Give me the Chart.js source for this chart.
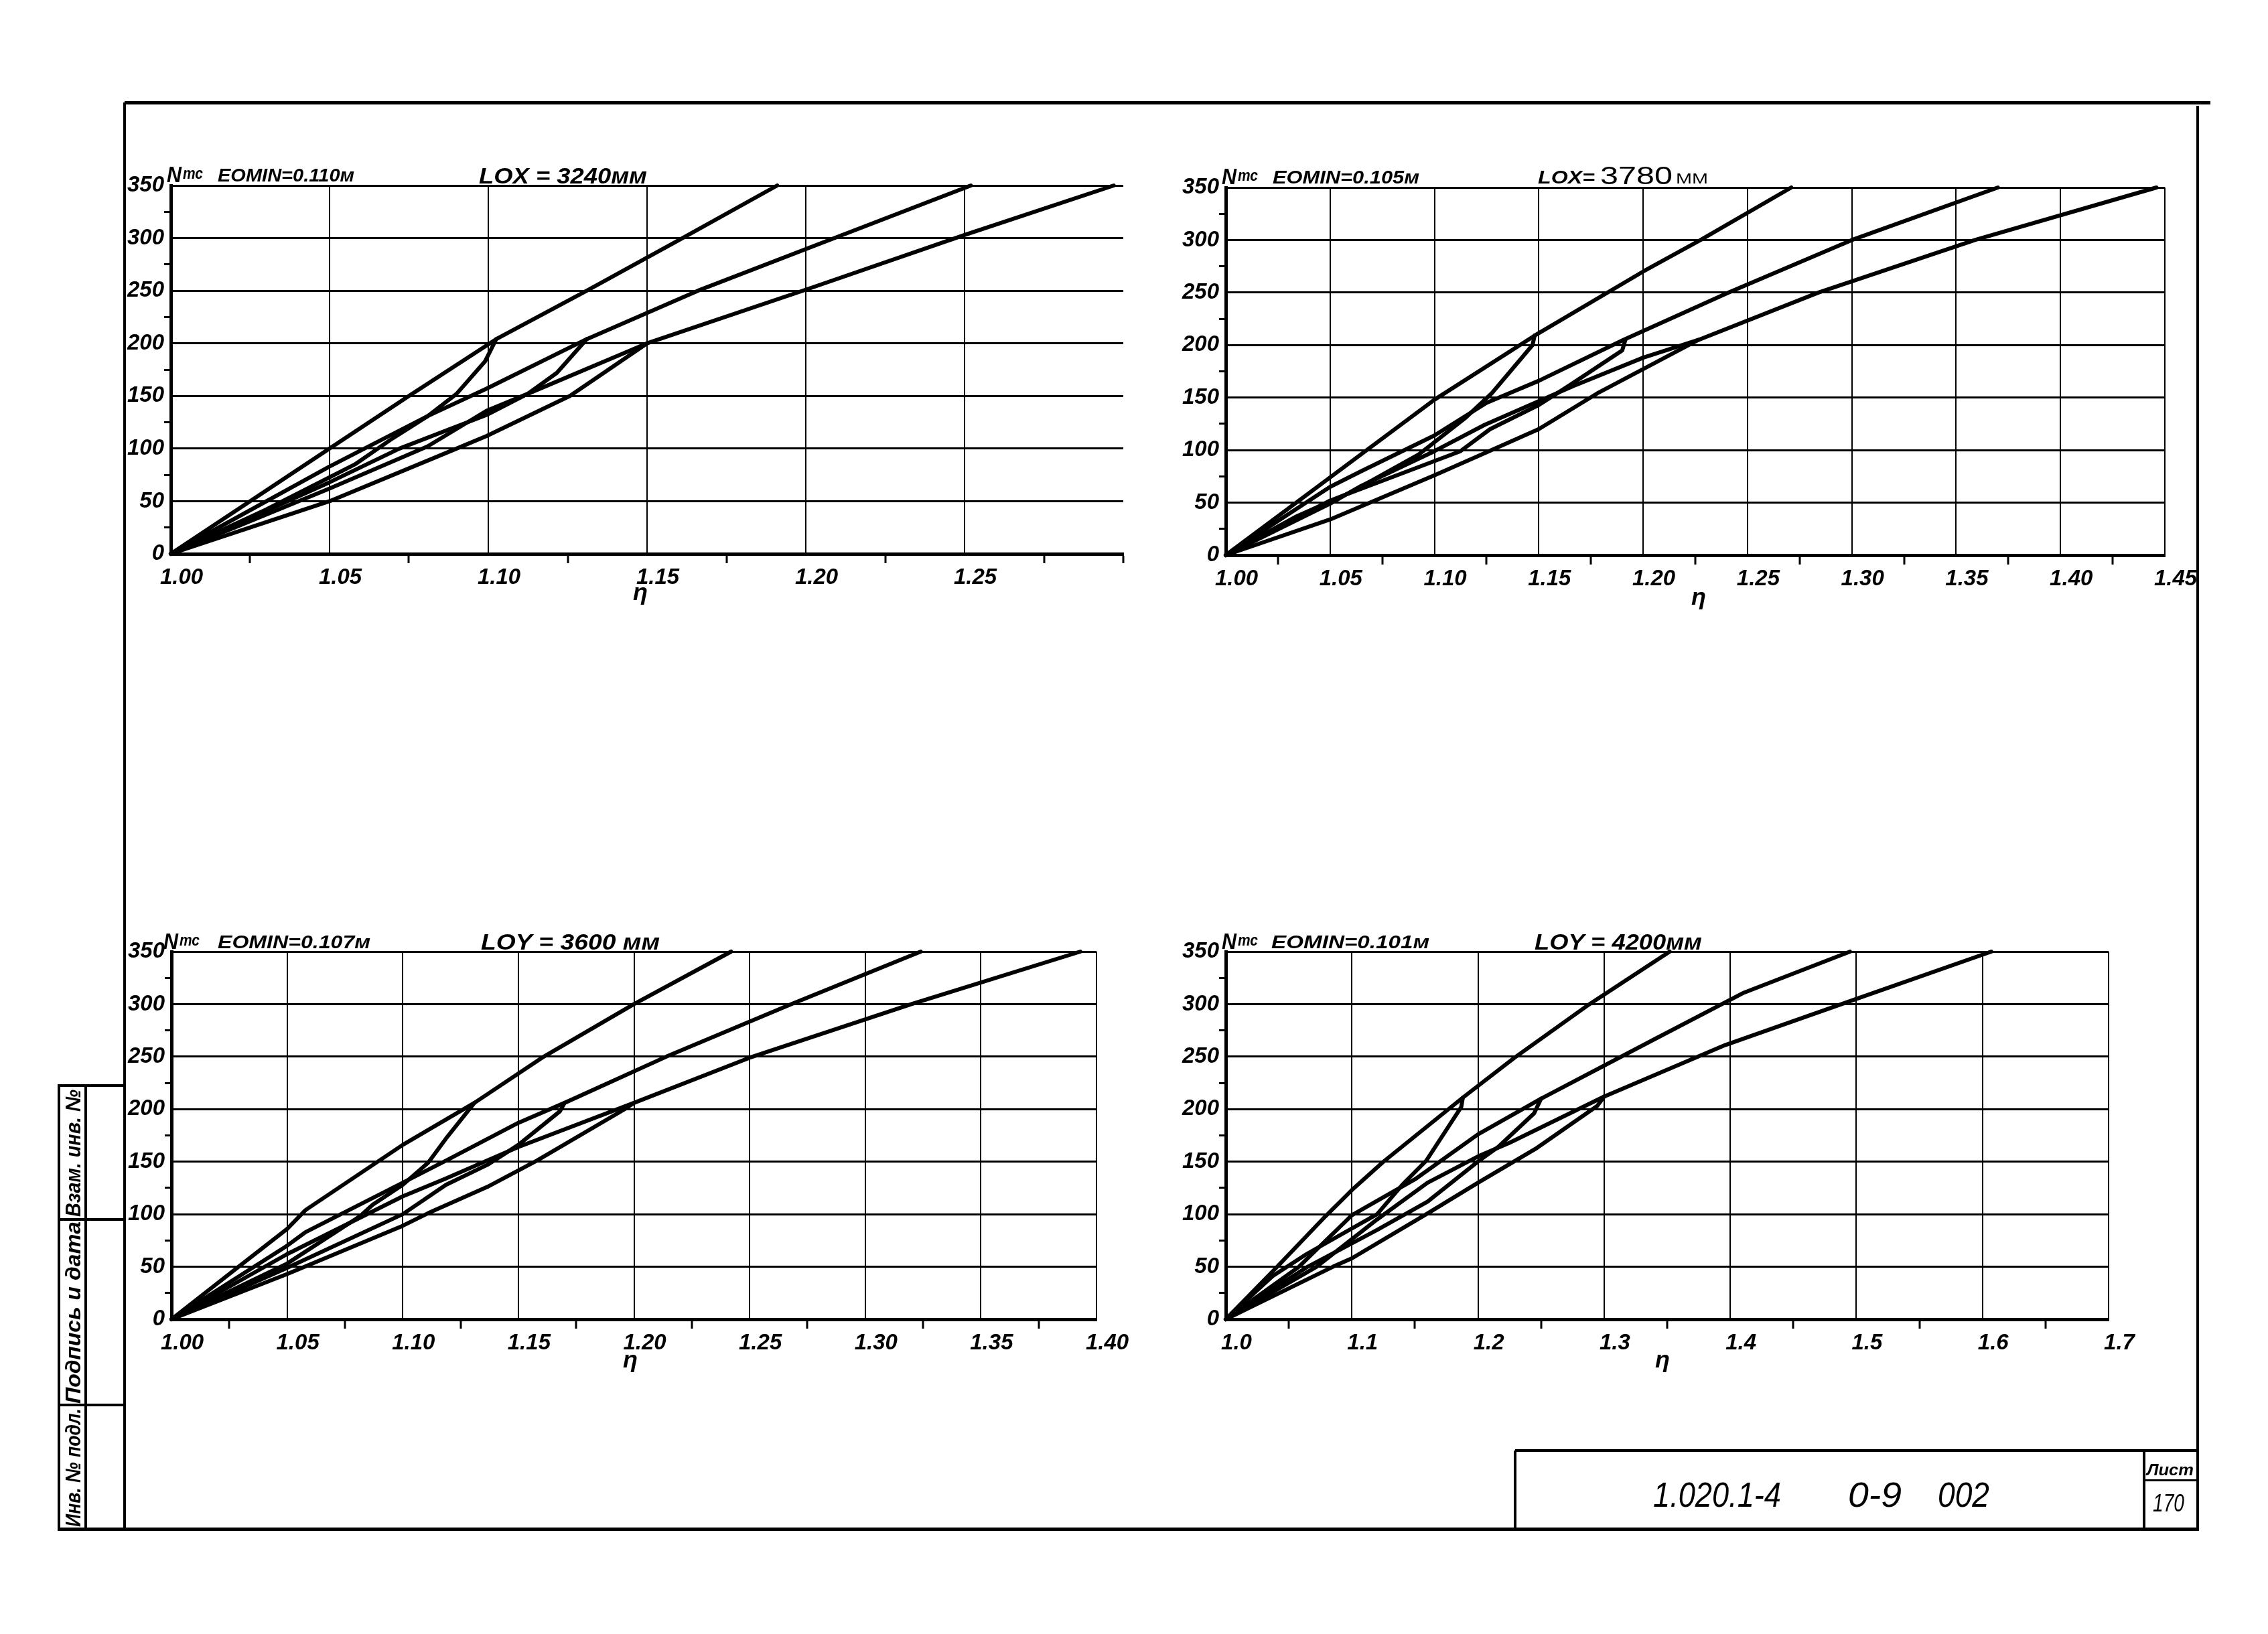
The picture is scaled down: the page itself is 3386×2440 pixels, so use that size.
<!DOCTYPE html>
<html>
<head>
<meta charset="utf-8">
<script src="https://cdn.jsdelivr.net/npm/chart.js@4.4.1/dist/chart.umd.min.js"></script>
<style>
  body { margin: 0; background: #fff; }
  #page { position: relative; width: 3386px; height: 2440px; background: #fff; overflow: hidden; }
  .ln { position: absolute; background: #000; }
  .tx { position: absolute; white-space: nowrap; line-height: 1; color: #000; transform-origin: 0 0;
        font-family: 'Liberation Sans', 'DejaVu Sans', sans-serif; font-style: italic; font-weight: bold; }
  canvas { position: absolute; }
</style>
</head>
<body>
<div id="page"></div>
<script>
// values: [eta, N (tc)]
var yLabels = ['0', '50', '100', '150', '200', '250', '300', '350'];

var c1Labels = ['1.00', '1.05', '1.10', '1.15', '1.20', '1.25'];
var c1Upper1 = [[1.00, 0], [1.05, 100], [1.075, 150], [1.1025, 204], [1.131, 250], [1.16, 298], [1.191, 350]];
var c1Inner1 = [[1.00, 0], [1.03, 42], [1.058, 85], [1.07, 110], [1.081, 131], [1.09, 152], [1.099, 183], [1.1025, 204]];
var c1Upper2 = [[1.00, 0], [1.05, 83], [1.081, 131], [1.0995, 157], [1.131, 204], [1.166, 250], [1.209, 300], [1.252, 350]];
var c1Inner2 = [[1.00, 0], [1.05, 68], [1.072, 100], [1.0995, 132], [1.1124, 152], [1.1216, 172], [1.131, 204]];
var c1Upper3 = [[1.00, 0], [1.05, 62], [1.0808, 102], [1.0995, 136], [1.1124, 152], [1.15, 200], [1.201, 252], [1.25, 303], [1.297, 350]];
var c1Inner3 = [[1.00, 0], [1.025, 25], [1.05, 50], [1.09, 100], [1.0995, 112], [1.1257, 150], [1.15, 200]];

var c2Labels = ['1.00', '1.05', '1.10', '1.15', '1.20', '1.25', '1.30', '1.35', '1.40', '1.45'];
var c2Upper1 = [[1.00, 0], [1.05, 74], [1.10, 148], [1.148, 209], [1.20, 270], [1.2275, 300], [1.271, 350]];
var c2Inner1 = [[1.00, 0], [1.034, 37], [1.06, 60], [1.0926, 96], [1.115, 131], [1.1274, 154], [1.147, 200], [1.148, 209]];
var c2Upper2 = [[1.00, 0], [1.05, 65], [1.065, 80], [1.10, 114], [1.125, 145], [1.15, 166], [1.1906, 205], [1.241, 250], [1.30, 300], [1.37, 350]];
var c2Inner2 = [[1.00, 0], [1.05, 52], [1.1125, 99], [1.1267, 120], [1.15, 143], [1.165, 162], [1.19, 195], [1.1915, 205]];
var c2Upper3 = [[1.00, 0], [1.05, 49], [1.065, 66], [1.10, 99], [1.124, 124], [1.1665, 161], [1.20, 188], [1.2266, 205], [1.284, 250], [1.359, 300], [1.446, 350]];
var c2Inner3 = [[1.00, 0], [1.05, 34], [1.10, 76], [1.124, 97], [1.15, 120], [1.178, 154], [1.2266, 205]];

var c3Labels = ['1.00', '1.05', '1.10', '1.15', '1.20', '1.25', '1.30', '1.35', '1.40'];
var c3Upper1 = [[1.00, 0], [1.029, 50], [1.05, 86], [1.058, 104], [1.10, 166], [1.131, 206], [1.161, 250], [1.20, 300], [1.242, 350]];
var c3Inner1 = [[1.00, 0], [1.05, 53], [1.0815, 98], [1.087, 109], [1.10, 128], [1.111, 149], [1.1187, 172], [1.131, 206]];
var c3Upper2 = [[1.00, 0], [1.05, 70], [1.058, 83], [1.10, 130], [1.1187, 151], [1.15, 187], [1.17, 206], [1.214, 250], [1.268, 300], [1.324, 350]];
var c3Inner2 = [[1.00, 0], [1.05, 49], [1.10, 100], [1.1187, 128], [1.1366, 147], [1.15, 166], [1.168, 198], [1.17, 206]];
var c3Upper3 = [[1.00, 0], [1.05, 62], [1.10, 117], [1.1187, 134], [1.15, 164], [1.20, 206], [1.25, 249], [1.32, 300], [1.393, 350]];
var c3Inner3 = [[1.00, 0], [1.05, 43], [1.10, 89], [1.111, 101], [1.1366, 126], [1.158, 151], [1.196, 200], [1.20, 206]];

var c4Labels = ['1.0', '1.1', '1.2', '1.3', '1.4', '1.5', '1.6', '1.7'];
var c4Upper1 = [[1.0, 0], [1.04, 49], [1.079, 98], [1.10, 123], [1.125, 150], [1.188, 211], [1.229, 249], [1.286, 298], [1.352, 350]];
var c4Inner1 = [[1.0, 0], [1.037, 41], [1.064, 62], [1.12, 100], [1.14, 128], [1.159, 151], [1.1867, 202], [1.188, 211]];
var c4Upper2 = [[1.0, 0], [1.058, 50], [1.10, 99], [1.151, 134], [1.20, 176], [1.25, 210], [1.339, 266], [1.411, 311], [1.495, 350]];
var c4Inner2 = [[1.0, 0], [1.065, 50], [1.12, 85], [1.16, 112], [1.2009, 151], [1.216, 164], [1.2445, 196], [1.25, 210]];
var c4Upper3 = [[1.0, 0], [1.072, 50], [1.12, 95], [1.16, 130], [1.20, 155], [1.225, 168], [1.30, 212], [1.396, 261], [1.50, 305], [1.607, 350]];
var c4Inner3 = [[1.0, 0], [1.085, 50], [1.10, 58], [1.159, 100], [1.20, 130], [1.2466, 163], [1.2945, 203], [1.30, 212]];

var page = document.getElementById('page');
var PADL = 110, PADT = 40, PADR = 70, PADB = 80;
var FONT = "'Liberation Sans', 'DejaVu Sans', sans-serif";

function hline(x1, x2, y, th) {
  var d = document.createElement('div');
  d.className = 'ln';
  d.style.left = x1 + 'px'; d.style.top = (y - th / 2) + 'px';
  d.style.width = (x2 - x1) + 'px'; d.style.height = th + 'px';
  page.appendChild(d);
}
function vline(x, y1, y2, th) {
  var d = document.createElement('div');
  d.className = 'ln';
  d.style.left = (x - th / 2) + 'px'; d.style.top = y1 + 'px';
  d.style.width = th + 'px'; d.style.height = (y2 - y1) + 'px';
  page.appendChild(d);
}

// t: text, x: left (or centre), base: baseline, size, w: width to fit
function text(t, x, base, size, w, o) {
  o = o || {};
  var d = document.createElement('div');
  d.className = 'tx';
  d.textContent = t;
  d.style.fontSize = size + 'px';
  if (o.upright) { d.style.fontStyle = 'normal'; }
  if (o.thin) { d.style.fontWeight = 'normal'; }
  page.appendChild(d);
  var real = d.getBoundingClientRect().width;
  var k = w ? w / real : 1;
  if (o.rotate) {
    // runs bottom to top, x = left of glyph column, base = lower end
    d.style.left = x + 'px';
    d.style.top = base + 'px';
    d.style.transform = 'rotate(-90deg) scaleX(' + k + ')';
    return;
  }
  var left = o.center ? x - real * k / 2 : x;
  d.style.left = left + 'px';
  d.style.top = (base - size * 0.85) + 'px';
  d.style.transform = 'scaleX(' + k + ')';
}

function pts(arr) {
  return arr.map(function (p) { return { x: p[0], y: p[1] }; });
}

function makeChart(spec) {
  var c = document.createElement('canvas');
  var w = spec.r - spec.l + PADL + PADR;
  var h = spec.b - spec.t + PADT + PADB;
  c.width = w; c.height = h;
  c.style.left = (spec.l - PADL) + 'px';
  c.style.top = (spec.t - PADT) + 'px';
  c.style.width = w + 'px'; c.style.height = h + 'px';
  page.appendChild(c);

  function xIdx(v) {
    var k = Math.round((v - spec.xmin) / spec.major);
    return Math.abs(v - (spec.xmin + k * spec.major)) < 1e-6 ? k : -1;
  }
  function xMajor(v) { var k = xIdx(v); return k >= 0 && spec.labels[k] !== undefined; }
  function yMajor(v) { return Math.abs(v / 50 - Math.round(v / 50)) < 1e-6; }
  var tickFont = { family: FONT, size: 33, style: 'italic', weight: 'bold' };

  new Chart(c, {
    type: 'scatter',
    data: {
      datasets: spec.lines.map(function (l) {
        return {
          data: pts(l), showLine: true, borderColor: '#000', borderWidth: 6,
          pointRadius: 0, tension: 0, clip: 8,
          borderJoinStyle: 'round', borderCapStyle: 'round'
        };
      })
    },
    options: {
      responsive: false,
      animation: false,
      devicePixelRatio: 1,
      layout: { padding: { left: 0, top: PADT, right: PADR, bottom: 0 } },
      plugins: { legend: { display: false }, tooltip: { enabled: false } },
      scales: {
        x: {
          type: 'linear', min: spec.xmin, max: spec.xmax,
          afterFit: function (s) { s.height = PADB; },
          ticks: {
            stepSize: spec.minor, autoSkip: false, maxRotation: 0, minRotation: 0,
            padding: 2, labelOffset: 16, color: '#000', font: tickFont,
            callback: function (v) { var k = xIdx(v); return (k >= 0 && spec.labels[k]) ? spec.labels[k] : ''; }
          },
          grid: {
            color: function (ctx) { return xMajor(ctx.tick.value) ? '#000' : 'rgba(0,0,0,0)'; },
            tickColor: function (ctx) { return xMajor(ctx.tick.value) ? 'rgba(0,0,0,0)' : '#000'; },
            lineWidth: 2, tickWidth: 3, tickLength: 14
          },
          border: { display: true, color: '#000', width: 5 }
        },
        y: {
          type: 'linear', min: 0, max: 350,
          afterFit: function (s) { s.width = PADL; },
          ticks: {
            stepSize: 25, autoSkip: false, padding: 0, color: '#000', font: tickFont,
            callback: function (v) { return yMajor(v) ? yLabels[Math.round(v / 50)] : ''; }
          },
          grid: {
            color: function (ctx) { return yMajor(ctx.tick.value) ? '#000' : 'rgba(0,0,0,0)'; },
            tickColor: function (ctx) { return yMajor(ctx.tick.value) ? 'rgba(0,0,0,0)' : '#000'; },
            lineWidth: 3, tickWidth: 3, tickLength: 10
          },
          border: { display: true, color: '#000', width: 5 }
        }
      }
    }
  });
}

makeChart({ l: 255, t: 277, r: 1677, b: 827, xmin: 1.0, xmax: 1.30, minor: 0.025, major: 0.05,
  labels: c1Labels, lines: [c1Upper1, c1Inner1, c1Upper2, c1Inner2, c1Upper3, c1Inner3] });
makeChart({ l: 1830, t: 280, r: 3232, b: 829, xmin: 1.0, xmax: 1.45, minor: 0.025, major: 0.05,
  labels: c2Labels, lines: [c2Upper1, c2Inner1, c2Upper2, c2Inner2, c2Upper3, c2Inner3] });
makeChart({ l: 256, t: 1421, r: 1637, b: 1970, xmin: 1.0, xmax: 1.40, minor: 0.025, major: 0.05,
  labels: c3Labels, lines: [c3Upper1, c3Inner1, c3Upper2, c3Inner2, c3Upper3, c3Inner3] });
makeChart({ l: 1830, t: 1421, r: 3148, b: 1970, xmin: 1.0, xmax: 1.7, minor: 0.05, major: 0.1,
  labels: c4Labels, lines: [c4Upper1, c4Inner1, c4Upper2, c4Inner2, c4Upper3, c4Inner3] });

// chart headings
text('N', 249, 272, 34, 22);   text('тс', 273, 268, 23, 30);
text('EOMIN=0.110м', 325, 272, 27, 204);
text('LOX = 3240мм', 715, 274, 34, 251);

text('N', 1824, 275, 34, 22);  text('тс', 1848, 271, 23, 30);
text('EOMIN=0.105м', 1900, 275, 27, 219);
text('LOX=', 2296, 275, 28, 85);
text('3780', 2389, 276, 36, 108, { upright: true, thin: true });
text('ММ', 2502, 275, 22, 48, { upright: true, thin: true });

text('N', 244, 1417, 34, 22);  text('тс', 268, 1413, 23, 30);
text('EOMIN=0.107м', 325, 1417, 27, 228);
text('LOY = 3600 мм', 718, 1418, 33, 267);

text('N', 1824, 1417, 34, 22); text('тс', 1848, 1413, 23, 30);
text('EOMIN=0.101м', 1898, 1417, 27, 236);
text('LOY = 4200мм', 2291, 1418, 33, 250);

// axis titles
text('η', 956, 897, 36, 0, { center: true });
text('η', 2536, 904, 36, 0, { center: true });
text('η', 941, 2043, 36, 0, { center: true });
text('η', 2482, 2043, 36, 0, { center: true });

// sheet frame
hline(186, 3300, 153, 5);
vline(186, 153, 2285, 4);
vline(3281, 158, 2285, 4);
hline(86, 3283, 2283, 5);

// side stamp
hline(86, 186, 1621, 4);
vline(88, 1621, 2285, 4);
vline(128, 1621, 2283, 4);
hline(86, 186, 1821, 4);
hline(86, 186, 2098, 4);
text('Взам. инв. №', 93, 1817, 32, 190, { rotate: true });
text('Подпись и дата', 93, 2096, 32, 272, { rotate: true });
text('Инв. № подл.', 93, 2280, 32, 177, { rotate: true });

// title block
hline(2262, 3283, 2166, 4);
vline(2262, 2166, 2285, 4);
vline(3201, 2166, 2283, 4);
hline(3201, 3283, 2210, 3);
text('1.020.1-4', 2468, 2250, 52, 191, { thin: true });
text('0-9', 2759, 2250, 52, 80, { thin: true });
text('002', 2893, 2250, 52, 77, { thin: true });
text('Лист', 3205, 2203, 24, 70);
text('170', 3214, 2258, 36, 47, { thin: true });
</script>
</body>
</html>
